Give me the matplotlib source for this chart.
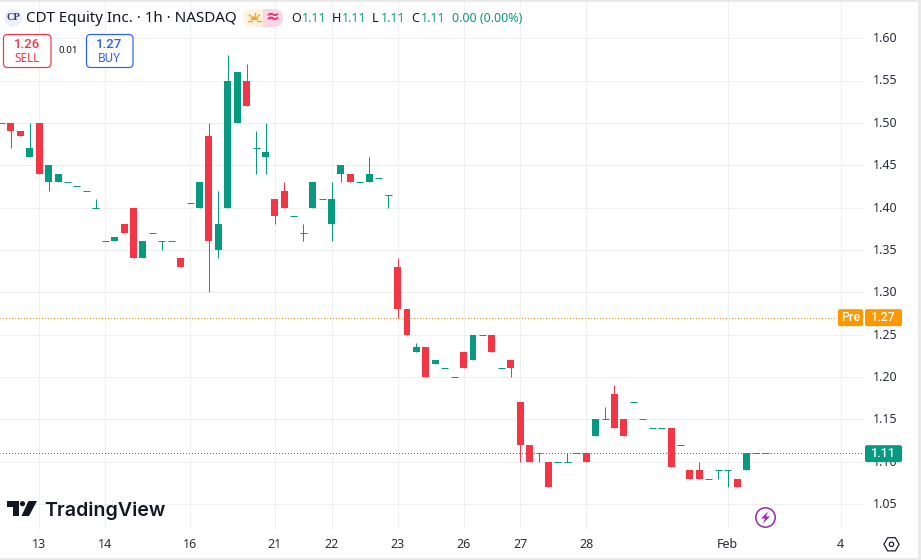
#!/usr/bin/env python

import matplotlib as mpl
mpl.use('Agg')
from matplotlib import pyplot as plt
from matplotlib.patches import Circle, FancyBboxPatch, Polygon, Rectangle, RegularPolygon, Wedge
from matplotlib.transforms import ScaledTranslation

plt.rc('font', family=['Noto Sans', 'DejaVu Sans'], size=9)

# hourly candles, one row of each list per bar
opens = [1.50, 1.50, 1.49, 1.46, 1.50, 1.43, 1.43, 1.43, 1.425, 1.42,
         1.40, 1.36, 1.36, 1.38, 1.40, 1.34, 1.37, 1.36, 1.36, 1.34,
         1.405, 1.40, 1.485, 1.35, 1.40, 1.50, 1.55, 1.47, 1.46, 1.41,
         1.42, 1.39, 1.37, 1.40, 1.41, 1.38, 1.44, 1.44, 1.43, 1.43,
         1.435, 1.415, 1.33, 1.28, 1.23, 1.235, 1.215, 1.21, 1.20, 1.23,
         1.22, 1.25, 1.25, 1.21, 1.22, 1.17, 1.12, 1.11, 1.10, 1.10,
         1.10, 1.11, 1.11, 1.13, 1.15, 1.18, 1.15, 1.17, 1.15, 1.14,
         1.14, 1.14, 1.12, 1.09, 1.09, 1.08, 1.09, 1.09, 1.08, 1.09,
         1.11, 1.11]
closes = [1.50, 1.49, 1.485, 1.47, 1.44, 1.45, 1.44, 1.43, 1.425, 1.42,
          1.40, 1.36, 1.365, 1.37, 1.34, 1.36, 1.37, 1.36, 1.36, 1.33,
          1.405, 1.43, 1.36, 1.38, 1.55, 1.56, 1.52, 1.47, 1.465, 1.39,
          1.40, 1.39, 1.37, 1.43, 1.41, 1.41, 1.45, 1.43, 1.43, 1.44,
          1.435, 1.415, 1.28, 1.25, 1.235, 1.20, 1.22, 1.21, 1.20, 1.21,
          1.25, 1.25, 1.23, 1.21, 1.21, 1.12, 1.10, 1.11, 1.07, 1.10,
          1.10, 1.11, 1.10, 1.15, 1.15, 1.14, 1.13, 1.17, 1.15, 1.14,
          1.14, 1.094, 1.12, 1.08, 1.08, 1.08, 1.09, 1.09, 1.07, 1.11,
          1.11, 1.11]
highs = [1.50, 1.50, 1.49, 1.50, 1.50, 1.45, 1.44, 1.43, 1.425, 1.42,
         1.41, 1.36, 1.365, 1.38, 1.40, 1.36, 1.37, 1.36, 1.36, 1.34,
         1.405, 1.43, 1.50, 1.42, 1.58, 1.56, 1.57, 1.49, 1.50, 1.41,
         1.43, 1.39, 1.38, 1.43, 1.41, 1.43, 1.45, 1.44, 1.43, 1.46,
         1.435, 1.415, 1.34, 1.28, 1.24, 1.235, 1.22, 1.21, 1.20, 1.23,
         1.25, 1.25, 1.25, 1.21, 1.22, 1.17, 1.12, 1.11, 1.10, 1.10,
         1.11, 1.11, 1.11, 1.15, 1.165, 1.19, 1.15, 1.17, 1.15, 1.14,
         1.14, 1.14, 1.12, 1.09, 1.10, 1.08, 1.09, 1.09, 1.08, 1.11,
         1.11, 1.11]
lows = [1.50, 1.47, 1.485, 1.46, 1.44, 1.42, 1.43, 1.43, 1.425, 1.42,
        1.40, 1.36, 1.36, 1.37, 1.34, 1.34, 1.37, 1.35, 1.36, 1.33,
        1.405, 1.40, 1.30, 1.34, 1.40, 1.50, 1.52, 1.44, 1.44, 1.38,
        1.40, 1.39, 1.36, 1.40, 1.41, 1.36, 1.43, 1.43, 1.43, 1.43,
        1.435, 1.40, 1.27, 1.25, 1.23, 1.20, 1.215, 1.21, 1.20, 1.21,
        1.22, 1.25, 1.23, 1.21, 1.20, 1.10, 1.10, 1.10, 1.07, 1.10,
        1.10, 1.11, 1.10, 1.13, 1.15, 1.14, 1.13, 1.17, 1.15, 1.14,
        1.14, 1.094, 1.12, 1.08, 1.08, 1.08, 1.08, 1.07, 1.07, 1.09,
        1.11, 1.11]

# time axis labels and the bars they sit on
date_bars = [4, 11, 20, 29, 35, 42, 49, 55, 62, 77, 89]
date_labels = ['13', '14', '16', '21', '22', '23', '26', '27', '28', 'Feb', '4']
price_ticks = [1.05, 1.10, 1.15, 1.20, 1.25, 1.30, 1.35, 1.40, 1.45, 1.50, 1.55, 1.60]
pre_price = 1.27
last_price = 1.11

up = '#089981'
down = '#f23645'
grid = '#eeeff1'
orange = '#ff9800'
ink = '#131722'
px = 0.72  # one pixel in points
dots = (0.5, (1, 2))  # phase keeps each dot on a whole pixel

W, H = 921, 560
fig = plt.figure(figsize=(W/100, H/100), dpi=100)

# plot area, bar spacing 9.43 px and 847 px per price unit
x0, x1, y0, y1 = 0, 864, 2, 530
ax = fig.add_axes([x0/W, 1-y1/H, (x1-x0)/W, (y1-y0)/H])
ax.set_xlim((x0-1.5)/9.43, (x1-1.5)/9.43)
ax.set_ylim(1.05+(504-y1)/847, 1.05+(504-y0)/847)
for s in ax.spines.values():
    s.set_visible(False)
ax.set_xticks(date_bars, date_labels)
ax.set_yticks(price_ticks, ['%.2f' % p for p in price_ticks])
ax.yaxis.tick_right()
ax.tick_params(length=0, labelsize=9, labelcolor='#2a2e39')
ax.tick_params(axis='x', pad=6)
ax.tick_params(axis='y', pad=6.5)
ax.set_axisbelow(True)
ax.grid(color=grid, lw=px)
ax.get_xticklabels()[9].set_fontweight('bold')

# nudge the price labels up a pixel
nudge = ScaledTranslation(0, 1/100, fig.dpi_scale_trans)
for lab in ax.get_yticklabels():
    lab.set_transform(lab.get_transform()+nudge)

for i, (o, h, l, c) in enumerate(zip(opens, highs, lows, closes)):
    col = up if c >= o else down
    ax.vlines(i, l, h, color=col, lw=px, zorder=3)
    if o == c:
        ax.hlines(o, i-0.37, i+0.37, color=col, lw=px, zorder=3)
    else:
        ax.bar(i, abs(c-o), 0.74, bottom=min(o, c), color=col, lw=0, zorder=3)

ax.axhline(pre_price, xmax=836/864, color='#f78d1e', lw=px, ls=dots, zorder=2)
ax.axhline(last_price, color=up, lw=px, ls=dots, zorder=2)

# pixel overlay for the header, tags and logo
ov = fig.add_axes([0, 0, 1, 1])
ov.set_xlim(0, W)
ov.set_ylim(H, 0)
ov.axis('off')


def py(p):
    return 504-(p-1.05)*847


def tag(x, w, y, h, col, txt):
    ov.add_patch(FancyBboxPatch((x+2, y+2), w-4, h-4, boxstyle='round,pad=2,rounding_size=2',
                                fc=col, ec='none', zorder=5))
    ov.text(x+w/2, y+h/2, txt, color='white', fontsize=9, ha='center', va='center',
            family='Roboto', weight='medium', zorder=6)


# chrome edges
ov.add_patch(Rectangle((0, 0), W, 2, fc='#e9e9ea', ec='none'))
ov.add_patch(Rectangle((0, 557.5), W, 2.5, fc='#e9e9ea', ec='none'))
ov.add_patch(Rectangle((918, 0), 3, H, fc='#e9e9ea', ec='none'))

# price tags
tag(838, 25, py(pre_price)-8.5, 17, orange, 'Pre')
tag(865, 37, py(pre_price)-8.5, 17, orange, '1.27')
tag(865, 37, py(last_price)-8, 17, up, '1.11')

# header
ov.add_patch(Circle((13, 18), 9, fc='#eef0f8', ec='none'))
ov.text(13, 18, 'CP', family='Liberation Serif', weight='bold', fontsize=7.5, color='#2b3a80',
        ha='center', va='center')
ov.text(26, 18.5, 'CDT Equity Inc. · 1h · NASDAQ', fontsize=10.9, color=ink, va='center')

# market status pill, half sun and half pink
pill = FancyBboxPatch((252, 18), 22, 0, boxstyle='round,pad=9,rounding_size=9', fc='none', ec='none')
ov.add_patch(pill)
for x, w, col in [(243, 20, '#fff3e0'), (263, 20, '#fbd5e3')]:
    half = Rectangle((x, 9), w, 18, fc=col, ec='none')
    ov.add_patch(half)
    half.set_clip_path(pill)
ov.add_patch(Wedge((254.5, 20), 3.8, 180, 360, fc='#f7a325', ec='none'))
ov.plot([248, 252], [20.5, 20.5], color='#f7a325', lw=1)
ov.plot([257, 261], [20.5, 20.5], color='#f7a325', lw=1)
ov.plot([254.5, 254.5], [12.5, 14.5], color='#f7a325', lw=1)
ov.plot([249.5, 251], [15, 16.5], color='#f7a325', lw=1)
ov.plot([259.5, 258], [15, 16.5], color='#f7a325', lw=1)
ov.text(272, 18, '≈', color='#e8336d', fontsize=12, ha='center', va='center', weight='bold')

ohlc = [(291, 301.5, 'O', '1.11'), (331.5, 342, 'H', '1.11'),
        (372, 381, 'L', '1.11'), (411.5, 421, 'C', '1.11')]
for xk, xv, k, v in ohlc:
    ov.text(xk, 18.5, k, fontsize=9, color=ink, va='center')
    ov.text(xv, 18.5, v, fontsize=9, color=up, va='center')
ov.text(451.5, 18.5, '0.00 (0.00%)', fontsize=9, color=up, va='center')

# sell and buy buttons
ov.add_patch(FancyBboxPatch((4.5, 35.5), 45.5, 31, boxstyle='round,pad=1,rounding_size=4',
                            fc='white', ec=down, lw=px*1.2))
ov.text(27, 44, '1.26', color=down, fontsize=9.5, family='Roboto', weight='medium', ha='center', va='center')
ov.text(27, 58, 'SELL', color=down, fontsize=8.5, ha='center', va='center')
ov.add_patch(FancyBboxPatch((87.5, 35.5), 44.5, 31, boxstyle='round,pad=1,rounding_size=4',
                            fc='white', ec='#2962ff', lw=px*1.2))
ov.text(109, 44, '1.27', color='#2962ff', fontsize=9.5, family='Roboto', weight='medium', ha='center', va='center')
ov.text(109, 58, 'BUY', color='#2962ff', fontsize=8.5, ha='center', va='center')
ov.text(68, 50.7, '0.01', color=ink, fontsize=7, ha='center', va='center')

# logo
ov.add_patch(Polygon([(7, 501), (19, 501), (19, 516), (12.5, 516), (12.5, 506.5), (7, 506.5)], fc=ink, ec='none'))
ov.add_patch(Circle((22.5, 503.7), 2.6, fc=ink, ec='none'))
ov.add_patch(Polygon([(28.5, 501), (37, 501), (29, 516), (21.5, 516)], fc=ink, ec='none'))
ov.text(44, 516, 'TradingView', fontsize=14.1, weight='semibold', family='Inter', color=ink,
        ha='left', va='baseline')

# lightning badge and settings glyph
ov.add_patch(Circle((765.5, 517.5), 9.7, fc='white', ec='#9c27b0', lw=1.1))
ov.add_patch(Polygon([(768, 511.5), (761, 518.5), (765, 518.5), (763, 523.5), (770, 516.5), (766, 516.5)],
                     fc='#9c27b0', ec='none'))
ov.add_patch(RegularPolygon((891.5, 544.3), 6, radius=7.6, orientation=0.5236, fc='none', ec=ink, lw=px*1.2))
ov.add_patch(Circle((891.5, 544.3), 2.2, fc='none', ec=ink, lw=px*1.2))

fig.savefig('out.png', dpi=100)
